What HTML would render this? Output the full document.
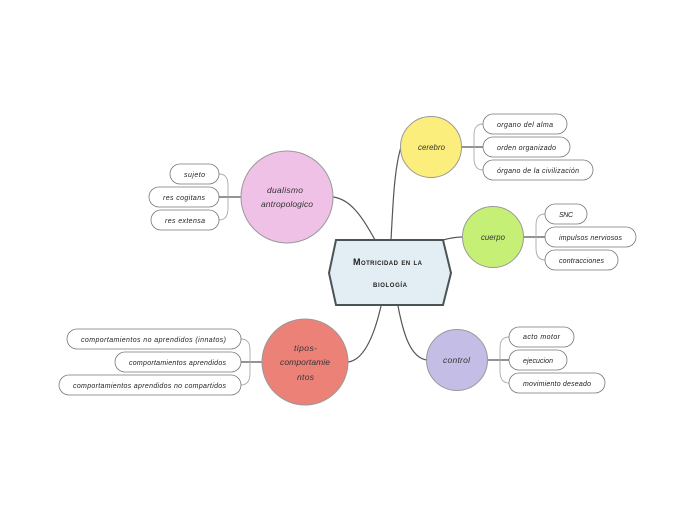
<!DOCTYPE html>
<html><head><meta charset="utf-8"><style>
html,body{margin:0;padding:0;background:#fff;width:697px;height:520px;overflow:hidden}
svg{display:block}
text{font-family:"Liberation Sans",sans-serif;font-style:italic;fill:#222}
.p{font-size:7px}
.c{font-size:8.5px;fill:#333}
.s{font-size:7.8px}
.r{fill:#fff;stroke:#777;stroke-width:.8}
.l{fill:none;stroke:#555;stroke-width:1.2}
.t{fill:none;stroke:#aaa;stroke-width:.9}
.o{stroke:#999;stroke-width:1}
.h{font-size:9px;font-style:normal;font-weight:bold;font-variant:small-caps;fill:#222}
</style></head><body>
<svg width="697" height="520" viewBox="0 0 697 520" xmlns="http://www.w3.org/2000/svg">
<path class="l" d="M391 240C393 205 394 170 401 147"/>
<path class="l" d="M443 240C450 238 455 237 463 237"/>
<path class="l" d="M375 240C362 216 350 199 333 197"/>
<path class="l" d="M381 306C375 332 365 360 348 362"/>
<path class="l" d="M398 306C403 332 410 358 427 360"/>
<path class="l" d="M461 147H483M523 237H545M487 360H509M219 197H241M241 362H262"/>
<path class="t" d="M483 124C475 124 474 130 474 136V158C474 165 476 170 483 170"/>
<path class="t" d="M545 214C537 214 536 220 536 226V248C536 255 538 260 545 260"/>
<path class="t" d="M509 337C501 337 500 343 500 349V371C500 378 502 383 509 383"/>
<path class="t" d="M219 174C227 174 228 180 228 186V208C228 215 226 220 219 220"/>
<path class="t" d="M241 339C249 339 250 345 250 351V373C250 380 248 385 241 385"/>
<path d="M336 240H443L451 273L443 305H336L329 273Z" fill="#e2eef4" stroke="#4a5456" stroke-width="2"/>
<text class="h" x="353" y="265" textLength="69">Motricidad en la</text>
<text class="h" x="373" y="287" textLength="34">biología</text>
<circle class="o" cx="431" cy="147" r="30.5" fill="#fbee7c"/>
<circle class="o" cx="493" cy="237" r="30.5" fill="#c6f075"/>
<circle class="o" cx="287" cy="197" r="46" fill="#f0c1e6"/>
<circle class="o" cx="305" cy="362" r="43" fill="#ec8178"/>
<circle class="o" cx="457" cy="360" r="30.5" fill="#c4bde5"/>
<text class="c s" x="418" y="150" textLength="27">cerebro</text>
<text class="c s" x="481" y="240" textLength="24">cuerpo</text>
<text class="c" x="267" y="193" textLength="36">dualismo</text>
<text class="c" x="261" y="207" textLength="52">antropologico</text>
<text class="c" x="294" y="351" textLength="23">tipos-</text>
<text class="c" x="280" y="365" textLength="50">comportamie</text>
<text class="c" x="297" y="380" textLength="17">ntos</text>
<text class="c" x="443" y="363" textLength="27">control</text>
<rect class="r" x="483" y="114" width="84" height="20" rx="10"/><text class="p" x="497" y="127" textLength="56">organo del alma</text>
<rect class="r" x="483" y="137" width="87" height="20" rx="10"/><text class="p" x="497" y="150" textLength="59">orden organizado</text>
<rect class="r" x="483" y="160" width="110" height="20" rx="10"/><text class="p" x="497" y="173" textLength="82">órgano de la civilización</text>
<rect class="r" x="545" y="204" width="42" height="20" rx="10"/><text class="p" x="559" y="217" textLength="14">SNC</text>
<rect class="r" x="545" y="227" width="91" height="20" rx="10"/><text class="p" x="559" y="240" textLength="63">impulsos nerviosos</text>
<rect class="r" x="545" y="250" width="73" height="20" rx="10"/><text class="p" x="559" y="263" textLength="45">contracciones</text>
<rect class="r" x="509" y="327" width="65" height="20" rx="10"/><text class="p" x="523" y="339" textLength="37">acto motor</text>
<rect class="r" x="509" y="350" width="58" height="20" rx="10"/><text class="p" x="523" y="363" textLength="30">ejecucion</text>
<rect class="r" x="509" y="373" width="96" height="20" rx="10"/><text class="p" x="523" y="386" textLength="68">movimiento deseado</text>
<rect class="r" x="170" y="164" width="49" height="20" rx="10"/><text class="p" x="184" y="177" textLength="21">sujeto</text>
<rect class="r" x="149" y="187" width="70" height="20" rx="10"/><text class="p" x="163" y="200" textLength="42">res cogitans</text>
<rect class="r" x="151" y="210" width="68" height="20" rx="10"/><text class="p" x="165" y="223" textLength="40">res extensa</text>
<rect class="r" x="67" y="329" width="174" height="20" rx="10"/><text class="p" x="81" y="342" textLength="145">comportamientos no aprendidos (innatos)</text>
<rect class="r" x="115" y="352" width="126" height="20" rx="10"/><text class="p" x="129" y="365" textLength="97">comportamientos aprendidos</text>
<rect class="r" x="59" y="375" width="182" height="20" rx="10"/><text class="p" x="73" y="388" textLength="153">comportamientos aprendidos no compartidos</text>
</svg>
</body></html>
